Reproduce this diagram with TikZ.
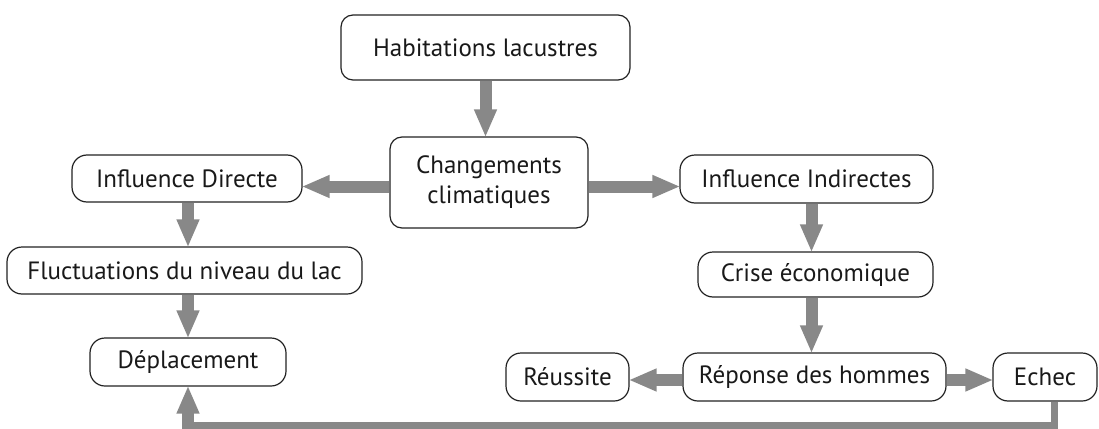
\documentclass[tikz,border=0pt]{standalone}
\usepackage{fontspec}
\setmainfont{PT Sans}
\usetikzlibrary{arrows.meta,calc}
\definecolor{arr}{HTML}{888888}
\definecolor{bord}{HTML}{222222}
\tikzset{
  box/.style={draw=bord,line width=1.2pt,rounded corners=15pt,inner sep=0pt,align=center,font=\fontsize{25}{30}\selectfont,text=black!90},
  flow/.style={draw=arr,line width=12pt,-{Triangle[length=28pt,width=21pt]},shorten >=-1pt},
  back/.style={draw=arr,line width=7pt}
}
\begin{document}
\begin{tikzpicture}[x=1pt,y=-1pt]
\useasboundingbox (0,0) rectangle (1099,428);
\node[box,rounded corners=12pt,minimum width=289pt,minimum height=65pt] (hab) at (485.5,47.5) {Habitations lacustres};
\node[box,rounded corners=12pt,minimum width=198pt,minimum height=91pt] (chg) at (489,182.5) {Changements\\climatiques};
\node[box,minimum width=230pt,minimum height=47pt] (id) at (187,178.5) {Influence Directe};
\node[box,minimum width=253pt,minimum height=48pt] (ii) at (806.5,179) {Influence Indirectes};
\node[box,minimum width=355pt,minimum height=47pt] (fl) at (184.5,270.5) {Fluctuations du niveau du lac};
\node[box,minimum width=196pt,minimum height=48pt] (dep) at (188,362) {Déplacement};
\node[box,minimum width=235pt,minimum height=45pt] (cr) at (815.5,274.5) {Crise économique};
\node[box,minimum width=263pt,minimum height=48pt] (rep) at (814.5,377) {Réponse des hommes};
\node[box,minimum width=123pt,minimum height=48pt] (reu) at (567.5,377) {Réussite};
\node[box,minimum width=104pt,minimum height=48pt] (ech) at (1045,377) {Echec};
\coordinate (turn) at ($(dep.south)+(0,38.5)$);
\draw[flow] (hab.south) -- (hab.south|-chg.north);
\draw[flow] ([yshift=-4pt]chg.west) -- ([yshift=-4pt]chg.west-|id.east);
\draw[flow] ([yshift=-4pt]chg.east) -- ([yshift=-4pt]chg.east-|ii.west);
\draw[flow] ([xshift=1pt]id.south) -- ([xshift=1pt]id.south|-fl.north);
\draw[flow] ([xshift=1pt]fl.south-|id.south) -- ([xshift=1pt]id.south|-dep.north);
\draw[flow] ([xshift=5pt]ii.south) -- ([xshift=5pt]ii.south|-cr.north);
\draw[flow] ([xshift=5pt]ii.south|-cr.south) -- ([xshift=5pt]ii.south|-rep.north);
\draw[flow] ([yshift=-3pt]rep.west) -- ([yshift=-3pt]rep.west-|reu.east);
\draw[flow] ([yshift=-3pt]rep.east) -- ([yshift=-3pt]rep.east-|ech.west);
\draw[back] ([xshift=9pt]ech.south) |- ([xshift=-6pt]turn);
\draw[flow] ([yshift=3.5pt]turn) -- (dep.south);
\end{tikzpicture}
\end{document}
